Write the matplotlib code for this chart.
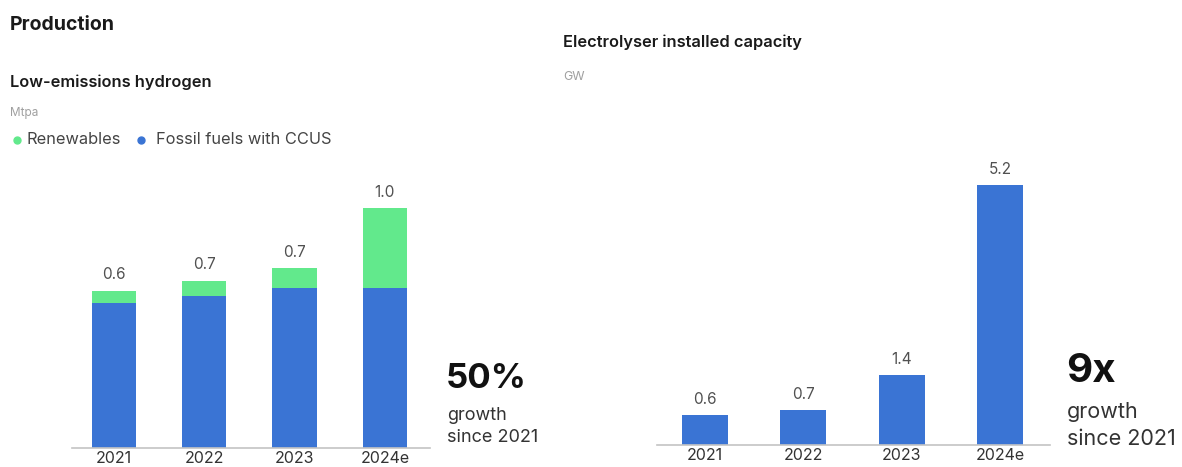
import matplotlib.pyplot as plt

plt.rcParams["font.family"] = ["Inter", "DejaVu Sans"]

W, H = 1182, 467
DPI = 100

years = ["2021", "2022", "2023", "2024e"]

# Low-emissions hydrogen production, Mtpa
fossil_ccus = [0.58, 0.61, 0.64, 0.64]
renewables = [0.05, 0.06, 0.08, 0.32]

# Electrolyser installed capacity, GW
electrolyser = [0.6, 0.7, 1.4, 5.2]

BLUE = "#3a74d4"
GREEN = "#62e98c"
AXIS = "#c4c4c4"
DARK = "#1a1a1a"
LABEL = "#505050"
GREY = "#a0a0a0"


def px_axes(fig, left, right, baseline, top):
    """axes placed by pixel edges (y measured from the top of the image)"""
    return fig.add_axes([left / W, (H - baseline) / H,
                         (right - left) / W, (baseline - top) / H])


def style(ax):
    for side in ("top", "right", "left"):
        ax.spines[side].set_visible(False)
    ax.spines["bottom"].set_color(AXIS)
    ax.spines["bottom"].set_linewidth(1.2)
    ax.set_yticks([])
    ax.set_xticks(range(len(years)))
    ax.set_xticklabels(years, fontsize=11.5, color="#333333")
    ax.tick_params(axis="x", length=0, pad=2)
    ax.patch.set_alpha(0)


fig = plt.figure(figsize=(W / DPI, H / DPI), dpi=DPI)
fig.patch.set_facecolor("white")

# left: stacked hydrogen production
# category spacing ~90 px, 250 px per Mtpa
ax1 = px_axes(fig, 71.5, 430, 448, 448 - 250 * 1.1)
ax1.set_xlim(-0.47, 3.5)
ax1.set_ylim(0, 1.1)
ax1.bar(range(4), fossil_ccus, width=0.49, color=BLUE, zorder=2)
ax1.bar(range(4), renewables, width=0.49, bottom=fossil_ccus, color=GREEN, zorder=2)
for i, (f, r) in enumerate(zip(fossil_ccus, renewables)):
    ax1.annotate(f"{f + r:.1f}", (i, f + r), xytext=(0, 6), textcoords="offset points",
                 ha="center", va="bottom", fontsize=11, color=LABEL)
style(ax1)

# right: electrolyser capacity, 50 px per GW
ax2 = px_axes(fig, 657, 1050, 445, 445 - 50 * 5.6)
ax2.set_xlim(-0.49, 3.51)
ax2.set_ylim(0, 5.6)
ax2.bar(range(4), electrolyser, width=0.47, color=BLUE, zorder=2)
for i, v in enumerate(electrolyser):
    ax2.annotate(f"{v:.1f}", (i, v), xytext=(0, 6), textcoords="offset points",
                 ha="center", va="bottom", fontsize=11, color=LABEL)
style(ax2)

# text layer in pixel coordinates
t = fig.add_axes([0, 0, 1, 1], zorder=5)
t.set_xlim(0, W)
t.set_ylim(H, 0)
t.axis("off")

t.text(10, 25, "Production", fontsize=14, fontweight="bold", color=DARK,
       ha="left", va="center")
t.text(10, 82, "Low-emissions hydrogen", fontsize=11.8, fontweight="semibold",
       color=DARK, ha="left", va="center")
t.text(10, 113, "Mtpa", fontsize=8.5, color=GREY, ha="left", va="center")

t.plot([17], [140], "o", ms=5, color=GREEN)
t.text(27, 140, "Renewables", fontsize=11.8, color="#444444", ha="left", va="center")
t.plot([141], [140], "o", ms=5, color=BLUE)
t.text(156, 140, "Fossil fuels with CCUS", fontsize=11.8, color="#444444",
       ha="left", va="center")

t.text(563, 42, "Electrolyser installed capacity", fontsize=11.8,
       fontweight="semibold", color=DARK, ha="left", va="center")
t.text(563, 77, "GW", fontsize=9, color=GREY, ha="left", va="center")

# growth call-outs
t.text(446, 379, "50%", fontsize=25, fontweight="bold", color="#111111",
       ha="left", va="center")
t.text(447, 416, "growth", fontsize=13, color="#333333", ha="left", va="center")
t.text(447, 437, "since 2021", fontsize=13, color="#333333", ha="left", va="center")

t.text(1066, 371, "9x", fontsize=29, fontweight="bold", color="#111111",
       ha="left", va="center")
t.text(1067, 412, "growth", fontsize=15.5, color="#333333", ha="left", va="center")
t.text(1067, 439, "since 2021", fontsize=15.5, color="#333333", ha="left", va="center")

fig.savefig("out.png", dpi=DPI, facecolor="white")
